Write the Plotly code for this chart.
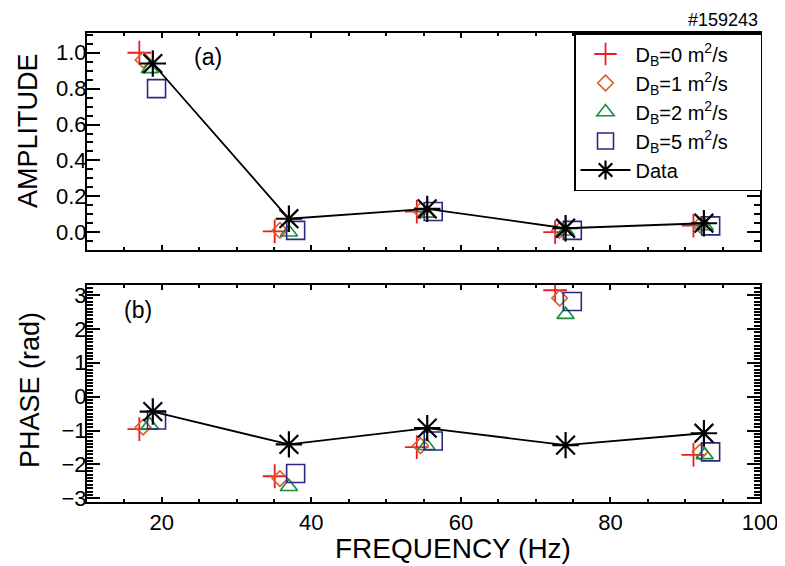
import plotly.graph_objects as go

# ---------------- data ----------------
x_d0 = [17.0, 35.1, 54.1, 72.6, 91.1]
x_d1 = [17.5, 35.8, 54.6, 73.2, 92.0]
x_d2 = [18.4, 37.0, 55.4, 74.0, 92.6]
x_d5 = [19.3, 37.9, 56.3, 74.9, 93.4]
x_data = [18.8, 37.0, 55.5, 74.0, 92.5]

amp_d0 = [1.00, 0.005, 0.115, 0.0, 0.037]
amp_d1 = [0.96, 0.01, 0.12, 0.01, 0.04]
amp_d2 = [0.91, 0.0, 0.105, 0.005, 0.035]
amp_d5 = [0.80, 0.01, 0.115, 0.01, 0.035]
amp_data = [0.94, 0.075, 0.13, 0.022, 0.05]

ph_d0 = [-0.96, -2.35, -1.49, 3.14, -1.72]
ph_d1 = [-0.90, -2.42, -1.45, 2.91, -1.63]
ph_d2 = [-0.84, -2.66, -1.45, 2.42, -1.72]
ph_d5 = [-0.69, -2.27, -1.31, 2.81, -1.63]
ph_data = [-0.44, -1.41, -0.93, -1.43, -1.08]

PAD = "\u00a0" * 5
names = ["D<sub>B</sub>=0 m<sup>2</sup>/s" + PAD, "D<sub>B</sub>=1 m<sup>2</sup>/s" + PAD,
         "D<sub>B</sub>=2 m<sup>2</sup>/s" + PAD, "D<sub>B</sub>=5 m<sup>2</sup>/s" + PAD,
         "Data"]
x_ticks = [20, 40, 60, 80, 100]
amp_ticks = [0.0, 0.2, 0.4, 0.6, 0.8, 1.0]
ph_ticks = [-3, -2, -1, 0, 1, 2, 3]

RED = "rgb(237,28,36)"
ORG = "rgb(217,96,40)"
GRN = "rgb(26,138,62)"
NAV = "rgb(40,42,130)"

styles = [
    dict(symbol="cross-thin-open", size=17, color=RED, line=dict(color=RED, width=1.8)),
    dict(symbol="diamond-open", size=12, color=ORG, line=dict(color=ORG, width=1.6)),
    dict(symbol="triangle-up-open", size=15, color=GRN, line=dict(color=GRN, width=1.6)),
    dict(symbol="square-open", size=18, color=NAV, line=dict(color=NAV, width=1.6)),
]

fig = go.Figure()
xs = [x_d0, x_d1, x_d2, x_d5]
amps = [amp_d0, amp_d1, amp_d2, amp_d5]
phs = [ph_d0, ph_d1, ph_d2, ph_d5]
for i in range(4):
    fig.add_trace(go.Scatter(x=xs[i], y=amps[i], mode="markers", marker=styles[i],
                             name=names[i], xaxis="x", yaxis="y", legendgroup=str(i)))
star = dict(symbol="asterisk-open", size=22, color="black", line=dict(color="black", width=2.2))
fig.add_trace(go.Scatter(x=x_data, y=amp_data, mode="lines+markers", marker=star,
                         line=dict(color="black", width=1.8), name=names[4],
                         xaxis="x", yaxis="y", legendgroup="4"))
for i in range(4):
    fig.add_trace(go.Scatter(x=xs[i], y=phs[i], mode="markers", marker=styles[i],
                             name=names[i], xaxis="x2", yaxis="y2", showlegend=False,
                             legendgroup=str(i)))
fig.add_trace(go.Scatter(x=x_data, y=ph_data, mode="lines+markers", marker=star,
                         line=dict(color="black", width=1.8), name=names[4],
                         xaxis="x2", yaxis="y2", showlegend=False, legendgroup="4"))

FONT = "Liberation Sans, Arial, sans-serif"
common = dict(showline=True, linecolor="black", linewidth=2, mirror="ticks",
              ticks="inside", tickcolor="black", tickwidth=1.5, showgrid=False,
              zeroline=False, automargin=False, tickfont=dict(size=22, color="black"))

# the page body has an 8px margin, so the figure is sized 8px smaller
W, H = 777, 558
ML, MR, MT, MB = 79, 25, 25, 64
H_PLOT = H - MT - MB
W_PLOT = W - ML - MR


def py(pix):
    # screen pixel row -> paper y
    return (H - MB - (pix - 8)) / H_PLOT


def px(pix):
    # screen pixel column -> paper x
    return (pix - 8 - ML) / W_PLOT


fig.update_layout(
    width=W, height=H,
    margin=dict(l=ML, r=MR, t=MT, b=MB, autoexpand=False),
    paper_bgcolor="white", plot_bgcolor="white",
    font=dict(family=FONT, color="black"),
    showlegend=True,
    legend=dict(x=1.003, y=1.0, xanchor="right", yanchor="top",
                bordercolor="black", borderwidth=1.5, bgcolor="white",
                font=dict(size=20, color="black"), tracegroupgap=0,
                itemwidth=50),
    xaxis=dict(range=[10, 100], domain=[0, 1], anchor="y", tickvals=x_ticks,
               showticklabels=False, ticklen=5,
               minor=dict(dtick=5, ticklen=3, ticks="inside", tickcolor="black"),
               **common),
    yaxis=dict(range=[-0.1, 1.11], domain=[0.537, 1.0], anchor="x", tickvals=amp_ticks,
               tickformat=".1f", ticklen=13, ticklabelstandoff=-6,
               minor=dict(dtick=0.05, ticklen=6, ticks="inside", tickcolor="black"),
               **common),
    xaxis2=dict(range=[10, 100], domain=[0, 1], anchor="y2", tickvals=x_ticks,
                ticklen=5,
                minor=dict(dtick=5, ticklen=3, ticks="inside", tickcolor="black"),
                **common),
    yaxis2=dict(range=[-3.11, 3.3], domain=[0.0, 0.463], anchor="x2", tickvals=ph_ticks,
                ticklen=13, ticklabelstandoff=-6,
                minor=dict(dtick=0.1, ticklen=6, ticks="inside", tickcolor="black"),
                **common),
    annotations=[
        dict(text="(a)", x=26.2, y=0.975, xref="x", yref="y", showarrow=False,
             font=dict(size=23)),
        dict(text="(b)", x=16.8, y=2.56, xref="x2", yref="y2", showarrow=False,
             font=dict(size=23)),
        dict(text="#159243", x=1.0, y=py(8), xref="paper", yref="paper",
             xanchor="right", yanchor="top", showarrow=False, font=dict(size=18)),
        dict(text="AMPLITUDE", x=px(28), y=py(131), xref="paper", yref="paper",
             textangle=-90, showarrow=False, font=dict(size=27),
             xanchor="center", yanchor="middle"),
        dict(text="PHASE (rad)", x=px(30), y=py(390), xref="paper", yref="paper",
             textangle=-90, showarrow=False, font=dict(size=27),
             xanchor="center", yanchor="middle"),
        dict(text="FREQUENCY (Hz)", x=px(453), y=py(548), xref="paper",
             yref="paper", showarrow=False, font=dict(size=28),
             xanchor="center", yanchor="middle"),
    ],
)

fig.write_html("out.html")
